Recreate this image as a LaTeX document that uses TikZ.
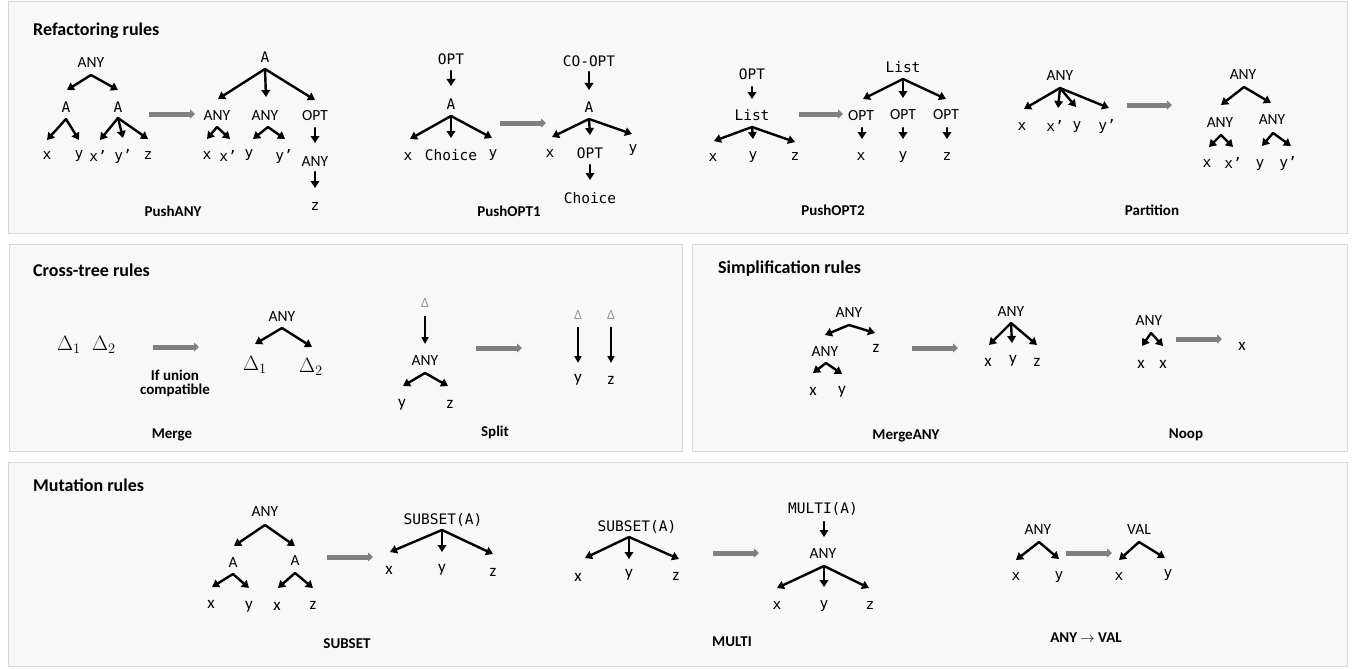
\documentclass[tikz,border=0pt]{standalone}
\usepackage{fontspec}
\setmainfont{Carlito}
\newfontfamily\carlito{Carlito}
\newfontfamily\dmono{DejaVu Sans Mono}
\usetikzlibrary{arrows.meta}
\definecolor{panelfill}{HTML}{F8F8F8}
\definecolor{panelline}{HTML}{D9D9D9}
\definecolor{bigarrow}{HTML}{808080}
\definecolor{deltagray}{HTML}{9A9A9A}
% fan of arrows from an apex coordinate: #1 name, #2/#3 apex, #4 list of tips x/y
\newcommand\fanout[4]{%
  \coordinate (#1) at (#2,#3);
  \foreach \tx/\ty [count=\i] in {#4} {
    \coordinate (#1-\i) at (\tx,\ty);
    \draw[tarr] (#1) -- (#1-\i);
  }%
}
% grey transformation arrow: #1 name, #2 x start, #3 x end, #4 y
\newcommand\ruleshift[4]{%
  \coordinate (#1-s) at (#2,#4);
  \coordinate (#1-e) at (#3,#4);
  \draw[bigarr] (#1-s) -- (#1-e);%
}
\begin{document}
\begin{tikzpicture}[x=1pt,y=-1pt,
  panel/.style={draw=panelline, fill=panelfill, line width=1pt},
  ttl/.style={font=\fontsize{18}{20}\selectfont\bfseries\carlito, anchor=west, inner sep=0},
  rulename/.style={font=\fontsize{15}{14}\selectfont\bfseries\carlito, inner sep=0},
  sans/.style={font=\fontsize{15.5}{16}\selectfont\carlito, inner sep=0},
  sleaf/.style={font=\fontsize{17}{18}\selectfont\carlito, inner sep=0},
  mono/.style={font=\fontsize{14.5}{15}\selectfont\dmono, inner sep=0},
  bigdelta/.style={font=\fontsize{22}{22}\selectfont, anchor=base west, inner sep=0},
  smalldelta/.style={font=\fontsize{14}{14}\selectfont\carlito, text=deltagray, inner sep=0},
  tarr/.style={line width=2.4pt, line cap=round, -{Triangle[length=7pt,width=8.5pt]}},
  thinarr/.style={line width=1.7pt, -{Triangle[length=7pt,width=7pt]}},
  bigarr/.style={draw=bigarrow, line width=5pt, -{Triangle[length=5pt,width=9pt]}},
]
\useasboundingbox (0,0) rectangle (1355,669);
\fill[white] (0,0) rectangle (1355,669);

% ---------------- panels ----------------
\draw[panel] (8,2) rectangle (1347,233);
\draw[panel] (9,244) rectangle (682,451);
\draw[panel] (692,244) rectangle (1347,451);
\draw[panel] (8,462) rectangle (1347,666);

\node[ttl] (t1) at (33,31) {Refactoring rules};
\node[ttl] (t2) at (33,270) {Cross-tree rules};
\node[ttl] (t3) at (718,269) {Simplification rules};
\node[ttl] (t4) at (33,485) {Mutation rules};

% ---------------- PushANY ----------------
\node[sans] (pa-any) at (91,63) {ANY};
\fanout{pa-ap}{91}{75}{67/90,118/90}
\node[mono] (pa-a1) at (66,107) {A};
\node[mono] (pa-a2) at (118,107) {A};
\fanout{pa-ap1}{66}{119}{47/140,79/140}
\fanout{pa-ap2}{118}{118}{100/140,123/138,148/139}
\node[mono] (pa-x) at (47,156) {x};
\node[mono] (pa-y) at (79,156) {y};
\node[mono] (pa-xp) at (98,156) {x’};
\node[mono] (pa-yp) at (123,156) {y’};
\node[mono] (pa-z) at (148,156) {z};
\ruleshift{g1}{149}{195}{114}
\node[mono] (pb-a) at (265,57) {A};
\fanout{pb-ap}{265}{69}{218/99,266/97,315/100}
\node[sans] (pb-any1) at (217,116) {ANY};
\node[sans] (pb-any2) at (265,116) {ANY};
\node[sans] (pb-opt) at (315,116) {OPT};
\fanout{pb-ap1}{217}{127}{207/139,230/139}
\fanout{pb-ap2}{268}{127}{253/139,285/139}
\fanout{pb-ap3}{315}{128}{315/143}
\node[mono] (pb-x) at (207,156) {x};
\node[mono] (pb-xp) at (228,156) {x’};
\node[mono] (pb-y) at (249,155) {y};
\node[mono] (pb-yp) at (284,156) {y’};
\node[sans] (pb-any3) at (315,162) {ANY};
\fanout{pb-ap4}{315}{172}{315/188}
\node[mono] (pb-z) at (315,207) {z};
\node[rulename] (r-pushany) at (173,211) {PushANY};

% ---------------- PushOPT1 ----------------
\node[mono] (po-opt) at (451,59) {OPT};
\fanout{po-ap0}{451}{71}{451/86}
\node[mono] (po-a) at (451,104) {A};
\fanout{po-ap}{451}{116}{410/139,451/138,492/138}
\node[mono] (po-x) at (408,157) {x};
\node[mono] (po-ch) at (451,155) {Choice};
\node[mono] (po-y) at (493,155) {y};
\ruleshift{g2}{500}{546}{123}
\node[mono] (pq-coopt) at (589,61) {CO-OPT};
\fanout{pq-ap0}{589}{72}{589/90}
\node[mono] (pq-a) at (589,107) {A};
\fanout{pq-ap}{589}{119}{552/137,590/135,632/134}
\node[mono] (pq-x) at (550,154) {x};
\node[mono] (pq-opt) at (590,153) {OPT};
\node[mono] (pq-y) at (633,150) {y};
\fanout{pq-ap2}{590}{165}{590/180}
\node[mono] (pq-ch) at (590,198) {Choice};
\node[rulename] (r-pushopt1) at (509,211) {PushOPT1};

% ---------------- PushOPT2 ----------------
\node[mono] (pr-opt) at (752,74) {OPT};
\fanout{pr-ap0}{752}{87}{752/99}
\node[mono] (pr-list) at (752,115) {List};
\fanout{pr-ap}{752}{127}{714/141,753/139,795/142}
\node[mono] (pr-x) at (713,158) {x};
\node[mono] (pr-y) at (753,157) {y};
\node[mono] (pr-z) at (795,157) {z};
\ruleshift{g3}{799}{843}{114}
\node[mono] (ps-list) at (903,67) {List};
\fanout{ps-ap}{903}{79}{863/99,903/98,946/99}
\node[sans] (ps-o1) at (861,116) {OPT};
\node[sans] (ps-o2) at (903,115) {OPT};
\node[sans] (ps-o3) at (946,115) {OPT};
\fanout{ps-a1}{862}{128}{862/139}
\fanout{ps-a2}{903}{128}{903/139}
\fanout{ps-a3}{947}{128}{947/139}
\node[mono] (ps-x) at (861,157) {x};
\node[mono] (ps-y) at (903,157) {y};
\node[mono] (ps-z) at (947,157) {z};
\node[rulename] (r-pushopt2) at (833,210) {PushOPT2};

% ---------------- Partition ----------------
\node[sans] (pt-any) at (1060,76) {ANY};
\fanout{pt-ap}{1060}{88}{1024/109,1058/108,1076/107,1109/108}
\node[mono] (pt-x) at (1022,127) {x};
\node[mono] (pt-xp) at (1055,126) {x’};
\node[mono] (pt-y) at (1077,127) {y};
\node[mono] (pt-yp) at (1107,126) {y’};
\ruleshift{g4}{1127}{1172}{105}
\node[sans] (pu-any) at (1243,75) {ANY};
\fanout{pu-ap}{1244}{87}{1221/105,1271/103}
\node[sans] (pu-any1) at (1220,123) {ANY};
\node[sans] (pu-any2) at (1272,120) {ANY};
\fanout{pu-ap1}{1221}{135}{1209/147,1233/147}
\fanout{pu-ap2}{1273}{133}{1262/146,1291/146}
\node[mono] (pu-x) at (1207,164) {x};
\node[mono] (pu-xp) at (1233,163) {x’};
\node[mono] (pu-y) at (1260,165) {y};
\node[mono] (pu-yp) at (1288,163) {y’};
\node[rulename] (r-partition) at (1152,210) {Partition};

% ---------------- Merge ----------------
\node[bigdelta] (mg-d1) at (57,350) {$\Delta_1$};
\node[bigdelta] (mg-d2) at (92,350) {$\Delta_2$};
\ruleshift{g5}{153}{199}{347}
\node[rulename, align=center] (mg-cond) at (175,383) {If union\\compatible};
\node[sans] (mh-any) at (282,317) {ANY};
\fanout{mh-ap}{282}{328}{255/344,312/347}
\node[bigdelta] (mh-d1) at (243,370) {$\Delta_1$};
\node[bigdelta] (mh-d2) at (299,372) {$\Delta_2$};
\node[rulename] (r-merge) at (172,435) {Merge};

% ---------------- Split ----------------
\node[smalldelta] (sp-d) at (425,303) {Δ};
\coordinate (sp-a0s) at (425,316);
\coordinate (sp-a0e) at (425,344);
\draw[thinarr] (sp-a0s) -- (sp-a0e);
\node[sans] (sp-any) at (425,361) {ANY};
\fanout{sp-ap}{425}{373}{403/386,448/386}
\node[sleaf] (sp-y) at (402,405) {y};
\node[sleaf] (sp-z) at (450,404) {z};
\ruleshift{g6}{476}{522}{348}
\node[smalldelta] (sq-d1) at (578,315) {Δ};
\node[smalldelta] (sq-d2) at (611,315) {Δ};
\coordinate (sq-a1s) at (578,327);
\coordinate (sq-a1e) at (578,363);
\coordinate (sq-a2s) at (611,327);
\coordinate (sq-a2e) at (611,363);
\draw[thinarr] (sq-a1s) -- (sq-a1e);
\draw[thinarr] (sq-a2s) -- (sq-a2e);
\node[sleaf] (sq-y) at (578,380) {y};
\node[sleaf] (sq-z) at (611,380) {z};
\node[rulename] (r-split) at (495,432) {Split};

% ---------------- MergeANY ----------------
\node[sans] (ma-any) at (849,313) {ANY};
\fanout{ma-ap}{849}{325}{825/335,875/333}
\node[sans] (ma-any2) at (825,352) {ANY};
\node[sleaf] (ma-z) at (876,348) {z};
\fanout{ma-ap2}{826}{363}{813/373,842/374}
\node[sleaf] (ma-x) at (813,391) {x};
\node[sleaf] (ma-y) at (842,392) {y};
\ruleshift{g7}{912}{958}{348}
\node[sans] (mb-any) at (1011,312) {ANY};
\fanout{mb-ap}{1011}{323}{989/345,1012/343,1037/345}
\node[sleaf] (mb-x) at (988,362) {x};
\node[sleaf] (mb-y) at (1013,361) {y};
\node[sleaf] (mb-z) at (1037,362) {z};
\node[rulename] (r-mergeany) at (906,436) {MergeANY};

% ---------------- Noop ----------------
\node[sans] (no-any) at (1149,321) {ANY};
\fanout{no-ap}{1151}{333}{1142/346,1163/346}
\node[sleaf] (no-x1) at (1141,364) {x};
\node[sleaf] (no-x2) at (1163,364) {x};
\ruleshift{g8}{1176}{1222}{339}
\node[sleaf] (no-x3) at (1242,346) {x};
\node[rulename] (r-noop) at (1186,435) {Noop};

% ---------------- SUBSET ----------------
\node[sans] (su-any) at (265,512) {ANY};
\fanout{su-ap}{265}{525}{234/546,295/546}
\node[sans] (su-a1) at (233,563) {A};
\node[sans] (su-a2) at (295,561) {A};
\fanout{su-ap1}{233}{574}{212/587,249/588}
\fanout{su-ap2}{295}{573}{278/588,313/588}
\node[sleaf] (su-x1) at (211,604) {x};
\node[sleaf] (su-y) at (249,607) {y};
\node[sleaf] (su-x2) at (277,606) {x};
\node[sleaf] (su-z) at (313,605) {z};
\ruleshift{g9}{327}{373}{557}
\node[mono] (sv-sub) at (443,520) {SUBSET(A)};
\fanout{sv-ap}{442}{530}{390/552,442/552,493/554}
\node[sleaf] (sv-x) at (389,570) {x};
\node[sleaf] (sv-y) at (442,570) {y};
\node[sleaf] (sv-z) at (493,572) {z};
\node[rulename] (r-subset) at (347,644) {SUBSET};

% ---------------- MULTI ----------------
\node[mono] (mu-sub) at (637,527) {SUBSET(A)};
\fanout{mu-ap}{629}{537}{585/558,629/559,679/559}
\node[sleaf] (mu-x) at (578,577) {x};
\node[sleaf] (mu-y) at (629,575) {y};
\node[sleaf] (mu-z) at (676,576) {z};
\ruleshift{g10}{713}{759}{553}
\node[mono] (mv-multi) at (823,509) {MULTI(A)};
\fanout{mv-ap0}{824}{522}{824/537}
\node[sans] (mv-any) at (823,554) {ANY};
\fanout{mv-ap}{824}{566}{777/588,824/587,869/588}
\node[mono] (mv-x) at (777,606) {x};
\node[mono] (mv-y) at (824,606) {y};
\node[mono] (mv-z) at (870,606) {z};
\node[rulename] (r-multi) at (732,642) {MULTI};

% ---------------- ANY -> VAL ----------------
\node[sans] (av-any) at (1038,530) {ANY};
\fanout{av-ap}{1039}{542}{1016/560,1059/559}
\node[mono] (av-x) at (1016,577) {x};
\node[mono] (av-y) at (1059,577) {y};
\ruleshift{g11}{1066}{1112}{553}
\node[sans] (aw-val) at (1139,530) {VAL};
\fanout{aw-ap}{1139}{542}{1119/560,1165/558}
\node[mono] (aw-x) at (1119,577) {x};
\node[mono] (aw-y) at (1168,575) {y};
\node[rulename] (r-anyval) at (1086,638) {ANY $\rightarrow$ VAL};
\end{tikzpicture}
\end{document}
